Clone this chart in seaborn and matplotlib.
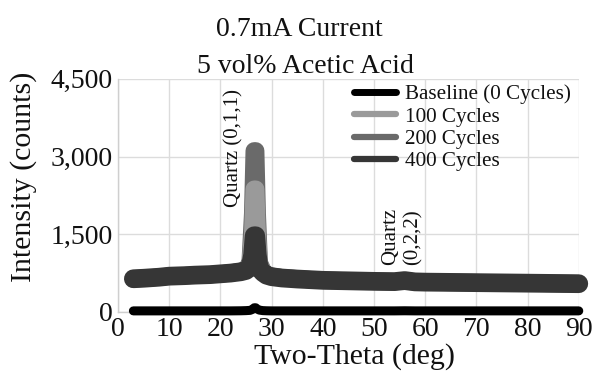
import matplotlib
matplotlib.use("Agg")
import matplotlib.pyplot as plt
import seaborn as sns
import pandas as pd
from matplotlib.lines import Line2D

sns.set_theme(style="whitegrid")
plt.rcParams["font.family"] = ["Liberation Serif", "DejaVu Serif"]

# Two-theta positions (deg)
two_theta = [3, 5, 8, 10, 13, 15, 18, 20, 22, 24, 25, 25.8, 26.3, 26.6, 26.9,
             27.2, 27.6, 28.3, 29, 30, 32, 35, 38, 40, 45, 50, 54, 56, 58,
             60, 65, 70, 75, 80, 85, 90]

# Intensity (counts) per cycle count
baseline_0 = [20, 20, 20, 20, 20, 20, 20, 20, 20, 22, 25, 30, 50, 80, 80,
              55, 35, 25, 22, 20, 20, 20, 20, 20, 20, 20, 20, 22, 20,
              20, 20, 20, 20, 20, 20, 20]
cycles_100 = [640, 650, 670, 690, 700, 710, 720, 735, 750, 780, 810, 900, 1500, 2370, 2370,
              1500, 900, 780, 720, 690, 660, 640, 620, 610, 600, 590, 585, 600, 580,
              575, 570, 565, 560, 555, 550, 545]
cycles_200 = [640, 650, 670, 690, 700, 710, 720, 735, 750, 785, 820, 950, 1900, 3110, 3110,
              1900, 950, 800, 720, 690, 660, 640, 620, 610, 600, 590, 585, 600, 580,
              575, 570, 565, 560, 555, 550, 545]
cycles_400 = [640, 650, 670, 690, 700, 710, 720, 735, 750, 775, 800, 860, 1100, 1470, 1470,
              1100, 840, 760, 710, 680, 655, 635, 620, 610, 600, 590, 585, 605, 580,
              575, 570, 565, 560, 555, 550, 545]

series_names = ["Baseline (0 Cycles)", "100 Cycles", "200 Cycles", "400 Cycles"]
series_values = [baseline_0, cycles_100, cycles_200, cycles_400]
series_colors = ["#000000", "#9a9a9a", "#6a6a6a", "#363636"]
series_widths = [6.5, 12.5, 12.5, 13.5]

x_ticks = [0, 10, 20, 30, 40, 50, 60, 70, 80, 90]
y_ticks = [0, 1500, 3000, 4500]

df = pd.DataFrame({
    "Two-Theta": two_theta * len(series_names),
    "Intensity": sum(series_values, []),
    "Series": [n for n in series_names for _ in two_theta],
})

fig = plt.figure(figsize=(5.93, 3.79), dpi=100)
ax = fig.add_axes([0.199, 0.177, 0.777, 0.615])

# draw order: 200 behind, then 100, then 400, baseline last
draw_order = [2, 1, 3, 0]
for i in draw_order:
    sub = df[df["Series"] == series_names[i]]
    sns.lineplot(data=sub, x="Two-Theta", y="Intensity", ax=ax,
                 color=series_colors[i], linewidth=series_widths[i],
                 solid_capstyle="round", solid_joinstyle="round",
                 legend=False, clip_on=False, zorder=3 + draw_order.index(i))

ax.set_xlim(0, 90)
ax.set_ylim(0, 4500)
ax.set_xticks(x_ticks)
ax.set_yticks(y_ticks)
ax.set_yticklabels([f"{v:,}" for v in y_ticks])
ax.tick_params(axis="both", labelsize=20, length=0, pad=4, colors="#111111")
ax.grid(True, color="#dcdcdc", linewidth=1)
for side in ["top", "right"]:
    ax.spines[side].set_visible(False)
for side in ["left", "bottom"]:
    ax.spines[side].set_color("#cfcfcf")
    ax.spines[side].set_linewidth(1)

ax.set_xlabel("Two-Theta (deg)", fontsize=21.5, color="#111111")
ax.set_ylabel("Intensity (counts)", fontsize=21.5, color="#111111")
ax.xaxis.set_label_coords(0.514, -0.135)
ax.yaxis.set_label_coords(-0.175, 0.58)

fig.text(0.505, 0.905, "0.7mA Current", ha="center", va="baseline",
         fontsize=20, color="#111111")
fig.text(0.515, 0.808, "5 vol% Acetic Acid", ha="center", va="baseline",
         fontsize=20, color="#111111")

ax.text(22.6, 2020, "Quartz (0,1,1)", rotation=90, ha="center", va="bottom",
        fontsize=15, color="#111111", zorder=10)
ax.text(55.5, 900, "Quartz\n(0,2,2)", rotation=90, ha="center", va="bottom",
        fontsize=15, color="#111111", linespacing=1.25, zorder=10)

handles = [Line2D([0], [0], color=c, linewidth=5 if k == 0 else 4.5)
           for k, c in enumerate(series_colors)]
leg = ax.legend(handles, series_names, loc="upper left",
                bbox_to_anchor=(0.512, 0.975), frameon=False, fontsize=15.2,
                handlelength=2.0, handletextpad=0.4, labelspacing=0.12,
                borderaxespad=0, borderpad=0)
for t in leg.get_texts():
    t.set_color("#111111")

fig.savefig("out.png", dpi=100)
